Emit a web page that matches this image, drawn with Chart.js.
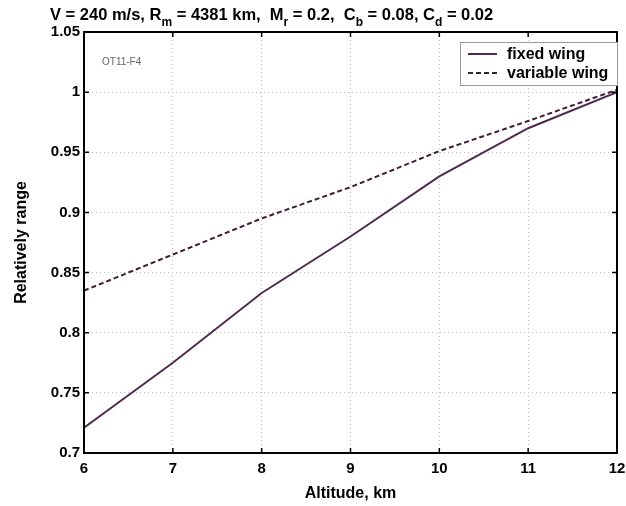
<!DOCTYPE html>
<html>
<head>
<meta charset="utf-8">
<script src="https://cdn.jsdelivr.net/npm/chart.js@4.4.1/dist/chart.umd.min.js"></script>
<style>
  html, body { margin: 0; padding: 0; background: #fff; }
</style>
</head>
<body>
<canvas id="grafica" width="626" height="506"></canvas>
<script>
// data
const altitudes = [6, 7, 8, 9, 10, 11, 12];
const fixedWing = [0.721, 0.775, 0.833, 0.880, 0.930, 0.970, 1.000];
const variableWing = [0.835, 0.865, 0.895, 0.921, 0.951, 0.976, 1.002];
const xTicks = [6, 7, 8, 9, 10, 11, 12];
const yTicks = [0.7, 0.75, 0.8, 0.85, 0.9, 0.95, 1, 1.05];
const seriesNames = ['fixed wing', 'variable wing'];
const xTitle = 'Altitude, km';
const yTitle = 'Relatively range';
const noteText = 'OT11-F4';
// title pieces: [text, isSubscript]
const titleParts = [
  ['V = 240 m/s, R', false], ['m', true], [' = 4381 km,  M', false], ['r', true],
  [' = 0.2,  C', false], ['b', true], [' = 0.08, C', false], ['d', true], [' = 0.02', false]
];

const FONT = '"Liberation Sans", Arial, sans-serif';

const toPoints = (ys) => altitudes.map((x, i) => ({x: x, y: ys[i]}));

// title with subscripts, small note, frame, inward ticks and boxed legend
const decoraciones = {
  id: 'decoraciones',
  afterDraw(chart) {
    const ctx = chart.ctx;
    const area = chart.chartArea;
    const xs = chart.scales.x, ys = chart.scales.y;
    ctx.save();

    // frame
    ctx.strokeStyle = '#000';
    ctx.lineWidth = 2;
    ctx.strokeRect(area.left, area.top, area.right - area.left, area.bottom - area.top);

    // inward ticks on all four sides
    ctx.lineWidth = 1.5;
    ctx.beginPath();
    xTicks.forEach(v => {
      const px = xs.getPixelForValue(v);
      ctx.moveTo(px, area.bottom); ctx.lineTo(px, area.bottom - 5);
      ctx.moveTo(px, area.top); ctx.lineTo(px, area.top + 5);
    });
    yTicks.forEach(v => {
      const py = ys.getPixelForValue(v);
      ctx.moveTo(area.left, py); ctx.lineTo(area.left + 5, py);
      ctx.moveTo(area.right, py); ctx.lineTo(area.right - 5, py);
    });
    ctx.stroke();

    // title
    let tx = 50;
    const base = 20;
    ctx.fillStyle = '#000';
    ctx.textBaseline = 'alphabetic';
    ctx.textAlign = 'left';
    titleParts.forEach(([t, sub]) => {
      ctx.font = sub ? 'bold 12px ' + FONT : 'bold 16.5px ' + FONT;
      ctx.fillText(t, tx, sub ? base + 6 : base);
      tx += ctx.measureText(t).width;
    });

    // note
    ctx.font = '10px ' + FONT;
    ctx.fillStyle = '#666';
    ctx.textBaseline = 'middle';
    ctx.fillText(noteText, area.left + 18, area.top + 30);

    // legend
    const lx = 460, ly = 42, lw = area.right - 460, lh = 43;
    ctx.fillStyle = '#fff';
    ctx.fillRect(lx, ly, lw, lh);
    ctx.strokeStyle = '#999';
    ctx.lineWidth = 1;
    ctx.strokeRect(lx + 0.5, ly + 0.5, lw, lh);
    ctx.font = 'bold 16px ' + FONT;
    chart.data.datasets.forEach((ds, i) => {
      const yy = ly + 12 + i * 19;
      ctx.strokeStyle = ds.borderColor;
      ctx.lineWidth = ds.borderWidth;
      ctx.setLineDash(ds.borderDash || []);
      ctx.beginPath();
      ctx.moveTo(lx + 8, yy); ctx.lineTo(lx + 37, yy);
      ctx.stroke();
      ctx.setLineDash([]);
      ctx.fillStyle = '#000';
      ctx.fillText(seriesNames[i], lx + 47, yy + 1);
    });
    ctx.restore();
  }
};

new Chart(document.getElementById('grafica').getContext('2d'), {
  type: 'line',
  data: {
    datasets: [{
      label: seriesNames[0],
      data: toPoints(fixedWing),
      borderColor: '#512a50',
      borderWidth: 2,
      pointRadius: 0,
      fill: false,
      tension: 0
    }, {
      label: seriesNames[1],
      data: toPoints(variableWing),
      borderColor: '#3f1e3a',
      borderWidth: 2,
      borderDash: [5, 3],
      pointRadius: 0,
      fill: false,
      tension: 0
    }]
  },
  options: {
    responsive: false,
    devicePixelRatio: 1,
    animation: false,
    layout: { padding: { left: 0, right: 9, top: 32, bottom: 0 } },
    plugins: {
      legend: { display: false },
      title: { display: false },
      tooltip: { enabled: false }
    },
    scales: {
      x: {
        type: 'linear',
        min: 6,
        max: 12,
        afterBuildTicks: (scale) => { scale.ticks = xTicks.map(v => ({value: v})); },
        afterFit: (scale) => {
          scale.height = 53;
          scale.paddingLeft = 0;
          scale.paddingRight = 0;
        },
        ticks: {
          color: '#000',
          padding: 7,
          maxRotation: 0,
          font: { family: FONT, size: 15, weight: 'bold' },
          callback: (v) => String(v)
        },
        grid: { color: '#bdbdbd', lineWidth: 1, drawTicks: false },
        border: { display: false, dash: [1, 3] },
        title: {
          display: true,
          text: xTitle,
          color: '#000',
          font: { family: FONT, size: 16, weight: 'bold' },
          padding: { top: 0, bottom: 3 }
        }
      },
      y: {
        min: 0.7,
        max: 1.05,
        afterBuildTicks: (scale) => { scale.ticks = yTicks.map(v => ({value: v})); },
        afterFit: (scale) => {
          scale.width = 84;
          scale.paddingTop = 0;
          scale.paddingBottom = 0;
        },
        ticks: {
          color: '#000',
          padding: 4,
          font: { family: FONT, size: 15, weight: 'bold' },
          callback: (v) => String(v)
        },
        grid: { color: '#bdbdbd', lineWidth: 1, drawTicks: false },
        border: { display: false, dash: [1, 3] },
        title: {
          display: true,
          text: yTitle,
          color: '#000',
          font: { family: FONT, size: 16, weight: 'bold' },
          padding: { top: 12, bottom: 0 }
        }
      }
    }
  },
  plugins: [decoraciones]
});
</script>
</body>
</html>
